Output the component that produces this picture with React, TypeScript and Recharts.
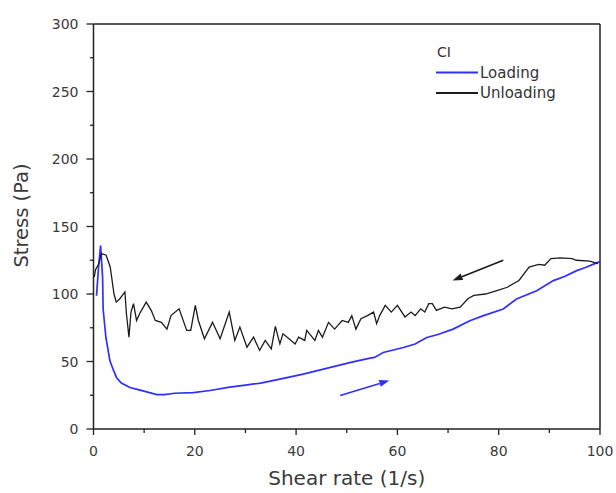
import React from 'react';
import { LineChart, Line, XAxis, YAxis, ReferenceLine, Legend, Label } from 'recharts';

const loadingX = [0.6, 1.0, 1.4, 1.8, 1.9, 2.45, 3.24, 4.0, 4.56, 5.5, 7.2, 9, 10.5, 12.5, 14, 16, 19.7, 23, 26.9, 30, 33, 36.8, 41.4, 44, 48, 51, 54.6, 55.5, 57.2, 61.2, 63.5, 65.8, 68, 71, 74.3, 77, 80.9, 83.5, 87.5, 90.8, 93, 95.4, 97, 99.1, 100];
const loadingY = [98.7, 120, 135.9, 112, 88.9, 67.8, 50.5, 43, 38, 34, 30.7, 29, 27.5, 25.5, 25.5, 26.5, 27, 28.5, 31, 32.5, 34, 36.9, 40.6, 43, 46.8, 49.5, 52.5, 53, 56.7, 60.4, 63, 67.8, 70, 74, 80.2, 84, 88.9, 96.3, 102.4, 109.9, 113, 117.3, 119.5, 122.7, 124];

const unloadingX = [0.16, 0.4, 1.0, 1.6, 2.5, 3.3, 4.05, 4.5, 5.2, 6.2, 6.5, 7.0, 7.4, 7.9, 8.5, 9.1, 10.4, 11.4, 12.2, 13.4, 14.5, 15.3, 16.9, 18.4, 19.2, 20.1, 20.7, 21.9, 23.5, 25, 26.8, 27.9, 28.9, 30.3, 31.6, 32.8, 33.9, 35.1, 35.9, 36.8, 37.4, 38.6, 39.8, 40.5, 41.7, 42.1, 43.7, 44.4, 45.2, 46.4, 47.6, 49.1, 50.3, 51, 51.8, 52.8, 54.1, 55.3, 55.9, 56.5, 57.6, 58.8, 60, 61.5, 62.7, 63.5, 64.6, 65.4, 66.2, 66.9, 67.7, 69.3, 70.8, 72.4, 73.9, 75.1, 77.4, 79.8, 81.7, 84, 86, 87.9, 89.1, 90.3, 92.2, 94.5, 95.3, 98, 99.6];
const unloadingY = [112.6, 118, 122, 130, 128.7, 120, 100, 94, 96.5, 101.5, 85.4, 68, 86.6, 92.8, 80.4, 85.4, 94, 87.9, 80.4, 79, 74, 84, 89, 73, 73, 91.6, 80.4, 66.8, 79, 66.8, 86.6, 65.6, 75.5, 60.6, 68, 58.2, 65.6, 59.4, 76, 63, 70.5, 66.8, 63, 68, 65.6, 73, 65.6, 73, 68, 79, 74, 80.4, 79, 84, 74, 81.7, 84, 86.6, 78, 84, 91.6, 86.6, 91.6, 83, 86.6, 84, 89, 86.6, 92.8, 92.8, 87.9, 90.3, 89, 90.3, 96.5, 99, 100, 102.7, 105, 110, 120, 122, 121.3, 126.2, 126.7, 126.2, 125, 124.3, 122.5];

const xTicks = [0, 10, 20, 30, 40, 50, 60, 70, 80, 90, 100];
const yTicks = [0, 25, 50, 75, 100, 125, 150, 175, 200, 225, 250, 275, 300];

// arrows: [fromX, fromY, toX, toY]
const unloadingArrow = [80.9, 125, 70.9, 110];
const loadingArrow = [48.7, 24.75, 58.4, 35.9];

const loadingData = loadingX.map((x, i) => ({ x, y: loadingY[i] }));
const unloadingData = unloadingX.map((x, i) => ({ x, y: unloadingY[i] }));

const BLUE = '#2f2fff';
const BLACK = '#1c1c1c';
const AXIS = '#222';
const TEXT = '#3a3a3a';
const FONT = "'DejaVu Sans', sans-serif";

const YTick = (props: any) => {
  const { x, y, payload } = props;
  const v = payload.value;
  const major = v % 50 === 0;
  return (
    <g>
      <line x1={x} x2={x - (major ? 7 : 3.5)} y1={y} y2={y} stroke={AXIS} strokeWidth={1.3} />
      {major && (
        <text x={x - 15} y={y + 5} textAnchor="end" fontFamily={FONT} fontSize={14} fill={TEXT}>
          {v}
        </text>
      )}
    </g>
  );
};

const XTick = (props: any) => {
  const { x, y, payload } = props;
  const v = payload.value;
  const major = v % 20 === 0;
  return (
    <g>
      <line x1={x} x2={x} y1={y} y2={y + (major ? 6 : 4)} stroke={AXIS} strokeWidth={1.3} />
      {major && (
        <text x={x} y={y + 26.5} textAnchor="middle" fontFamily={FONT} fontSize={14} fill={TEXT}>
          {v}
        </text>
      )}
    </g>
  );
};

const arrowShape = (color: string) => (props: any) => {
  const { x1, y1, x2, y2 } = props;
  const dx = x2 - x1;
  const dy = y2 - y1;
  const len = Math.sqrt(dx * dx + dy * dy) || 1;
  const ux = dx / len;
  const uy = dy / len;
  const hl = 10;
  const hw = 3.5;
  const bx = x2 - ux * hl;
  const by = y2 - uy * hl;
  const pts = `${x2},${y2} ${bx - uy * hw},${by + ux * hw} ${bx + uy * hw},${by - ux * hw}`;
  return (
    <g>
      <line x1={x1} y1={y1} x2={bx} y2={by} stroke={color} strokeWidth={1.6} />
      <polygon points={pts} fill={color} />
    </g>
  );
};

const LegendContent = (props: any) => {
  const { payload } = props;
  const items = payload || [];
  return (
    <svg width={160} height={70} style={{ display: 'block' }}>
      <text x={17} y={17} fontFamily={FONT} fontSize={14} fill="#3a3030">CI</text>
      {items.map((it: any, i: number) => (
        <g key={i}>
          <line x1={16} x2={58} y1={32.5 + i * 20.5} y2={32.5 + i * 20.5} stroke={it.color} strokeWidth={1.8} />
          <text x={60} y={37.5 + i * 20.5} fontFamily={FONT} fontSize={15} fill="#333">{it.value}</text>
        </g>
      ))}
    </svg>
  );
};

const XTitle = (props: any) => {
  const { viewBox } = props;
  const cx = viewBox.x + viewBox.width / 2;
  return (
    <text x={cx} y={485} textAnchor="middle" fontFamily={FONT} fontSize={20} fill={TEXT}>
      Shear rate (1/s)
    </text>
  );
};

const YTitle = (props: any) => {
  const { viewBox } = props;
  const cy = viewBox.y + viewBox.height / 2 - 11;
  return (
    <text x={28} y={cy} transform={`rotate(-90 28 ${cy})`} textAnchor="middle" fontFamily={FONT} fontSize={19.5} fill={TEXT}>
      Stress (Pa)
    </text>
  );
};

export default function App() {
  return (
    <div style={{ position: 'absolute', left: 0, top: 0, background: '#fff' }}>
      <LineChart width={616} height={493} margin={{ top: 24, right: 16, left: 0, bottom: 0 }}>
        <XAxis
          type="number"
          dataKey="x"
          domain={[0, 100]}
          ticks={xTicks}
          interval={0}
          height={64}
          tickSize={0}
          tickMargin={0}
          tick={<XTick />}
          axisLine={{ stroke: AXIS, strokeWidth: 1.5 }}
          allowDataOverflow
        >
          <Label content={<XTitle />} />
        </XAxis>
        <YAxis
          type="number"
          dataKey="y"
          domain={[0, 300]}
          ticks={yTicks}
          interval={0}
          width={93.5}
          tickSize={0}
          tickMargin={0}
          tick={<YTick />}
          axisLine={{ stroke: AXIS, strokeWidth: 1.5 }}
          allowDataOverflow
        >
          <Label content={<YTitle />} />
        </YAxis>
        <ReferenceLine y={300} stroke={AXIS} strokeWidth={1.5} />
        <ReferenceLine x={100} stroke={AXIS} strokeWidth={1.5} />
        <ReferenceLine
          segment={[{ x: unloadingArrow[0], y: unloadingArrow[1] }, { x: unloadingArrow[2], y: unloadingArrow[3] }]}
          shape={arrowShape(BLACK)}
        />
        <ReferenceLine
          segment={[{ x: loadingArrow[0], y: loadingArrow[1] }, { x: loadingArrow[2], y: loadingArrow[3] }]}
          shape={arrowShape(BLUE)}
        />
        <Line data={loadingData} dataKey="y" name="Loading" type="linear" stroke={BLUE} strokeWidth={1.7} dot={false} isAnimationActive={false} />
        <Line data={unloadingData} dataKey="y" name="Unloading" type="linear" stroke={BLACK} strokeWidth={1.3} dot={false} isAnimationActive={false} />
        <Legend
          content={<LegendContent />}
          layout="vertical"
          verticalAlign="middle"
          align="center"
          wrapperStyle={{ position: 'absolute', left: 420, top: 40, width: 160, height: 70 }}
        />
      </LineChart>
    </div>
  );
}
